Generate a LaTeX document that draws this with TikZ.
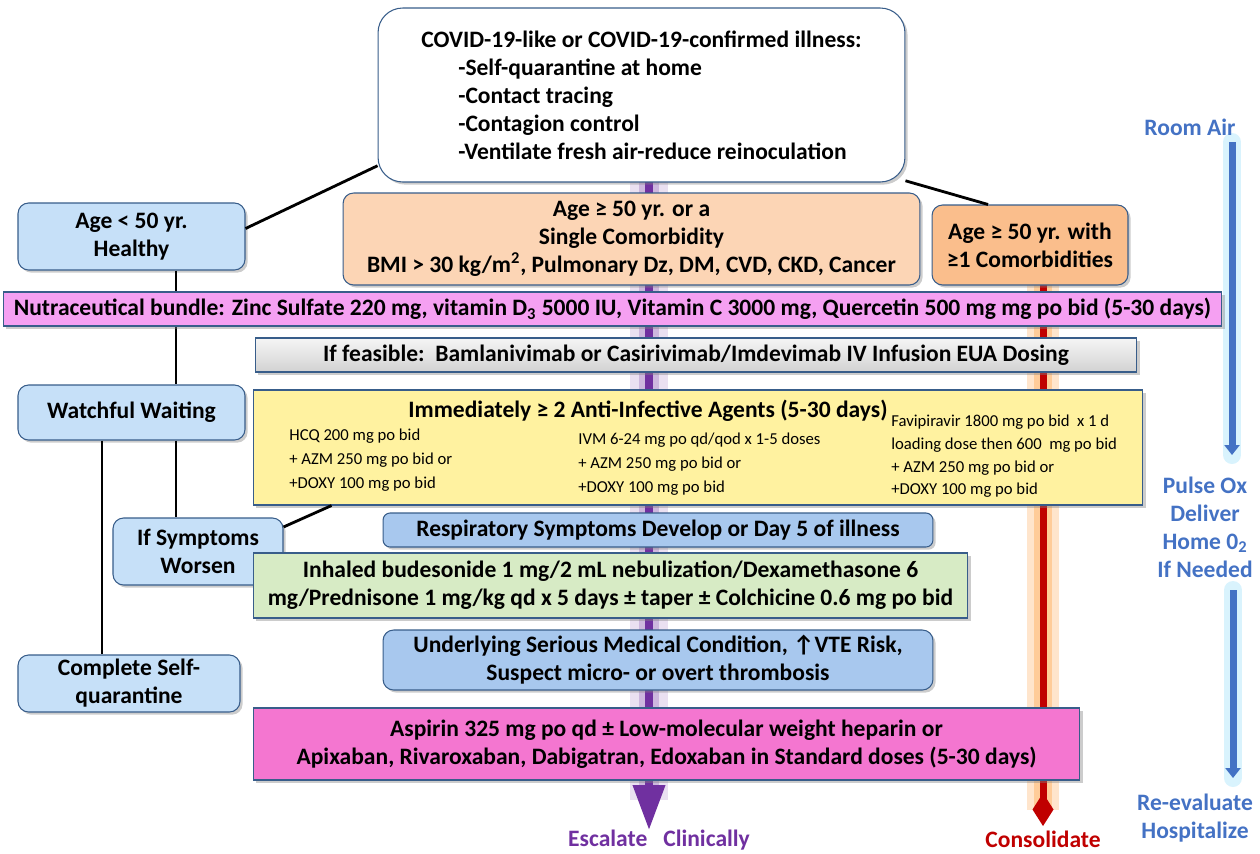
\documentclass[tikz,border=0pt]{standalone}
\usepackage{fontspec}
\setmainfont{Carlito}
\usetikzlibrary{shadows,arrows.meta}
\definecolor{outl}{RGB}{56,93,138}
\definecolor{skyb}{RGB}{198,224,248}
\definecolor{peach}{RGB}{252,213,181}
\definecolor{apricot}{RGB}{250,190,140}
\definecolor{orchid}{RGB}{245,160,242}
\definecolor{butter}{RGB}{255,242,160}
\definecolor{steel}{RGB}{168,200,238}
\definecolor{mint}{RGB}{215,235,197}
\definecolor{hotpink}{RGB}{244,118,208}
\definecolor{escal}{RGB}{112,48,160}
\definecolor{consol}{RGB}{192,0,0}
\definecolor{oxy}{RGB}{68,114,196}
\begin{document}
\begin{tikzpicture}
  [x=0.02cm,y=-0.02cm,
   every node/.style={font=\fontsize{13.4}{15.9}\selectfont\bfseries,align=center,inner sep=0pt},
   box/.style={draw=outl,line width=0.6pt,drop shadow={opacity=0.4,shadow xshift=1.5pt,shadow yshift=-1.5pt}},
   roundbox/.style={box,rounded corners=6pt},
   small/.style={font=\fontsize{9.5}{13.6}\selectfont,align=left},
   conn/.style={line width=1.6pt,black},
   bluetxt/.style={text=oxy}]
\useasboundingbox (0,0) rectangle (1260,853);

% guide lines behind the boxes
\coordinate (ptop) at (649,182);
\coordinate (pend) at (649,830);
\coordinate (rtop) at (1043,285);
\coordinate (rend) at (1043,826);
\coordinate (b1top) at (1232,142);
\coordinate (b1end) at (1232,455);
\coordinate (b2top) at (1233,590);
\coordinate (b2end) at (1233,778);
\draw[escal!15,line width=0.75cm] (ptop) -- (649,800);
\draw[escal!35,line width=0.4cm] (ptop) -- (649,800);
\draw[escal,line width=4pt,-{Triangle[width=0.62cm,length=0.9cm]}] (ptop) -- (pend);
\draw[orange!20,line width=0.65cm] (rtop) -- (1043,810);
\draw[orange!40,line width=0.35cm] (rtop) -- (1043,810);
\draw[consol,line width=4pt,-{Diamond[width=0.42cm,length=0.66cm]}] (rtop) -- (rend);
\foreach \from/\to in {b1top/b1end,b2top/b2end}
  {\draw[cyan!15,line width=0.36cm,line cap=round] (\from) -- (\to);
   \draw[oxy,line width=4pt,-{Triangle[width=0.3cm,length=0.2cm]}] (\from) -- (\to);}

\node (top)[box,fill=white,rounded corners=14pt,minimum width=10.54cm,minimum height=3.48cm,align=left] at (641.5,95)
  {COVID-19-like or COVID-19-confirmed illness:\\
   \hspace*{0.74cm}-Self-quarantine at home\\
   \hspace*{0.74cm}-Contact tracing\\
   \hspace*{0.74cm}-Contagion control\\
   \hspace*{0.74cm}-Ventilate fresh air-reduce reinoculation};
\node (young)[roundbox,fill=skyb,minimum width=4.54cm,minimum height=1.34cm] at (131.5,236.5) {Age < 50 yr.\\ Healthy};
\node (single)[roundbox,fill=peach,minimum width=11.54cm,minimum height=1.84cm] at (631.5,239)
  {Age ≥ 50 yr. or a\\ Single Comorbidity\\ BMI > 30 kg/m\textsuperscript{2}, Pulmonary Dz, DM, CVD, CKD, Cancer};
\node (sick)[roundbox,fill=apricot,minimum width=3.92cm,minimum height=1.6cm] at (1030,245) {Age ≥ 50 yr. with\\ ≥1 Comorbidities};
\node (watch)[roundbox,fill=skyb,minimum width=4.54cm,minimum height=1.1cm] at (131.5,412.5) {Watchful Waiting};
\node (worse)[roundbox,fill=skyb,minimum width=3.4cm,minimum height=1.34cm] at (198,551.5) {If Symptoms\\ Worsen};
\node (done)[roundbox,fill=skyb,minimum width=4.44cm,minimum height=1.14cm] at (129,683.5) {Complete Self-\\ quarantine};

\draw[conn] (young.4) -- (top.195);
\draw[conn] (sick.136) -- (top.342.5);
\draw[conn] (young.south -| 176,0) -- (watch.north -| 176,0);
\draw[conn] (watch.south -| 176,0) -- (worse.north -| 176,0);
\draw[conn] (watch.south -| 102,0) -- (done.north -| 102,0);

\node (nutra)[box,fill=orchid,minimum width=24.38cm,minimum height=0.68cm] at (612.5,309)
  {Nutraceutical bundle: Zinc Sulfate 220 mg, vitamin D\textsubscript{3} 5000 IU, Vitamin C 3000 mg, Quercetin 500 mg mg po bid (5-30 days)};
\node (mab)[box,top color=gray!8,bottom color=gray!35,minimum width=17.64cm,minimum height=0.68cm] at (696,355)
  {If feasible:\ \ Bamlanivimab or Casirivimab/Imdevimab IV Infusion EUA Dosing};
\node (yellow)[box,fill=butter,minimum width=17.8cm,minimum height=2.3cm] at (698,447.5) {};
\node (agents) at (648,411) {Immediately ≥ 2 Anti-Infective Agents (5-30 days)};
\node (hcq)[small,anchor=north west] at (289,429) {HCQ 200 mg po bid\\ + AZM 250 mg po bid or\\ +DOXY 100 mg po bid};
\node (ivm)[small,anchor=north west] at (578,433) {IVM 6-24 mg po qd/qod x 1-5 doses\\ + AZM 250 mg po bid or\\ +DOXY 100 mg po bid};
\node (favi)[small,font=\fontsize{9.5}{12.9}\selectfont,anchor=north west] at (891,415)
  {Favipiravir 1800 mg po bid\ \ x 1 d\\ loading dose then 600\ \ mg po bid\\ + AZM 250 mg po bid or\\ +DOXY 100 mg po bid};
\node (resp)[roundbox,fill=steel,rounded corners=4pt,minimum width=11cm,minimum height=0.68cm] at (658,530)
  {Respiratory Symptoms Develop or Day 5 of illness};
\node (steroid)[box,fill=mint,minimum width=14.3cm,minimum height=1.3cm] at (610.5,585.5)
  {Inhaled budesonide 1 mg/2 mL nebulization/Dexamethasone 6\\ mg/Prednisone 1 mg/kg qd x 5 days ± taper ± Colchicine 0.6 mg po bid};
\node (vte)[roundbox,fill=steel,minimum width=11cm,minimum height=1.2cm] at (658,660)
  {Underlying Serious Medical Condition, ↑VTE Risk,\\ Suspect micro- or overt thrombosis};
\node (anticoag)[box,fill=hotpink,minimum width=16.54cm,minimum height=1.44cm] at (666.5,744)
  {Aspirin 325 mg po qd ± Low-molecular weight heparin or\\ Apixaban, Rivaroxaban, Dabigatran, Edoxaban in Standard doses (5-30 days)};

\draw[conn] (worse.16) -- (yellow.189);

\node (escalate)[text=escal] at (659,840) {Escalate\ \ \ Clinically};
\node (consolidate)[text=consol] at (1043,839) {Consolidate};
\node (roomair)[bluetxt] at (1190,127) {Room Air};
\node (pulseox)[bluetxt] at (1205,527) {Pulse Ox\\ Deliver\\ Home 0\textsubscript{2}\\ If Needed};
\node (reeval)[bluetxt] at (1195,818) {Re-evaluate\\ Hospitalize};
\end{tikzpicture}
\end{document}
